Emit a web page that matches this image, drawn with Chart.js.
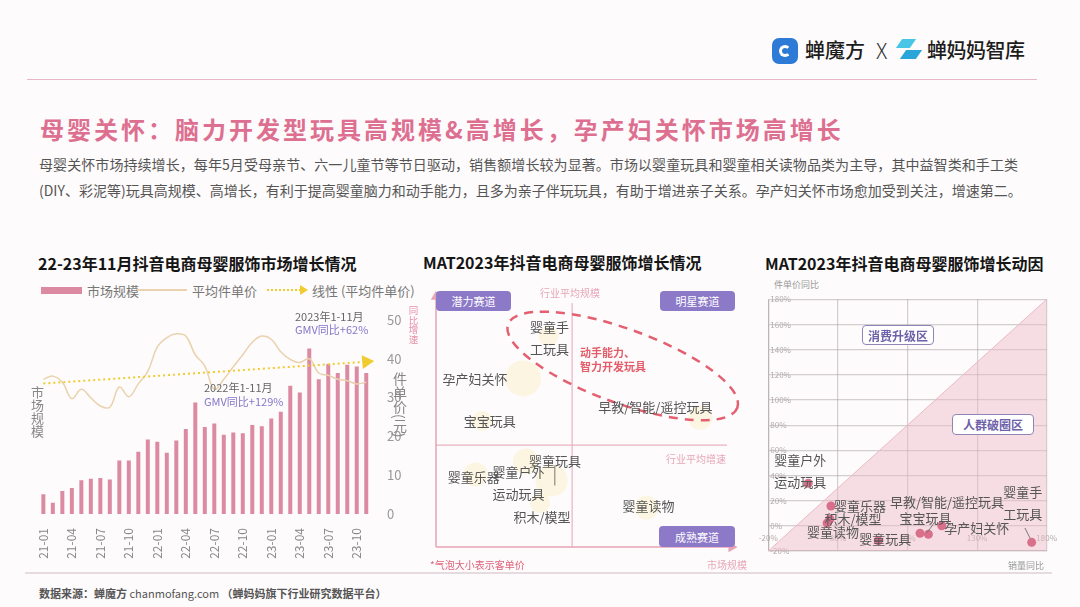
<!DOCTYPE html>
<html>
<head>
<meta charset="utf-8">
<script src="https://cdn.jsdelivr.net/npm/chart.js@4.4.1/dist/chart.umd.min.js"></script>
<style>
html, body { margin: 0; padding: 0; }
body {
    width: 1080px; height: 607px; position: relative; overflow: hidden;
    background: #fdfbfb; color: #333;
    font-family: "Noto Sans CJK SC", "Noto Sans", sans-serif;
}
.abs { position: absolute; white-space: nowrap; line-height: 1; transform: translateY(-50%); }
canvas { position: absolute; }
.vert { position: absolute; writing-mode: vertical-rl; line-height: 1; }
.quad { position: absolute; background: #8c79c7; color: #fff; font-size: 11px; border-radius: 4px;
        display: flex; align-items: center; justify-content: center; }
.zone { position: absolute; background: #fff; color: #6e61a9; font-size: 12px; font-weight: bold;
        border: 1.5px solid #8f86b6; border-radius: 4px; display: flex; align-items: center; justify-content: center; box-sizing: border-box; }
.ctitle { font-size: 16px; font-weight: bold; color: #151515; }
</style>
</head>
<body>

<!-- header -->
<div style="position:absolute;left:772px;top:38px;width:26px;height:26px;border-radius:7px;background:#2d7bd6;"></div>
<div style="position:absolute;left:779px;top:45px;width:12px;height:12px;border-radius:50%;border:3px solid #fff;border-right-color:transparent;box-sizing:border-box;"></div>
<div class="abs" style="left:805px;top:50px;font-size:20px;font-weight:500;color:#1c1c1c;">蝉魔方</div>
<div class="abs" style="left:876px;top:50px;font-size:21px;font-weight:300;color:#333;">X</div>
<div style="position:absolute;left:899px;top:39px;width:14px;height:9px;background:#49c6e6;transform:skewX(-35deg);"></div>
<div style="position:absolute;left:903px;top:50px;width:16px;height:9px;background:#2aa5d9;transform:skewX(-35deg);"></div>
<div class="abs" style="left:927px;top:50px;font-size:20px;font-weight:500;color:#1c1c1c;letter-spacing:-0.5px;">蝉妈妈智库</div>
<div style="position:absolute;left:27px;top:79px;width:1010px;height:1px;background:#e9b6c5;"></div>

<div class="abs" style="left:40px;top:129px;font-size:24px;font-weight:bold;color:#dd6f91;letter-spacing:3px;">母婴关怀：脑力开发型玩具高规模&amp;高增长，孕产妇关怀市场高增长</div>
<div class="abs" style="left:39px;top:164px;width:979px;font-size:14px;color:#555;text-align:justify;text-align-last:justify;">母婴关怀市场持续增长，每年5月受母亲节、六一儿童节等节日驱动，销售额增长较为显著。市场以婴童玩具和婴童相关读物品类为主导，其中益智类和手工类</div>
<div class="abs" style="left:39px;top:190px;width:979px;font-size:14px;color:#555;text-align:justify;text-align-last:justify;">(DIY、彩泥等)玩具高规模、高增长，有利于提高婴童脑力和动手能力，且多为亲子伴玩玩具，有助于增进亲子关系。孕产妇关怀市场愈加受到关注，增速第二。</div>

<!-- left chart -->
<div class="abs ctitle" style="left:38px;top:263px;">22-23年11月抖音电商母婴服饰市场增长情况</div>
<div style="position:absolute;left:41px;top:287px;width:41px;height:7px;background:#db8aa1;"></div>
<div class="abs" style="left:87px;top:290px;font-size:13px;color:#777;">市场规模</div>
<div style="position:absolute;left:137px;top:289px;width:50px;height:1.5px;background:#e9d2ad;"></div>
<div class="abs" style="left:192px;top:290px;font-size:13px;color:#777;">平均件单价</div>
<div style="position:absolute;left:267px;top:289px;width:34px;border-top:2px dotted #f0cc30;"></div>
<div style="position:absolute;left:300px;top:285px;width:0;height:0;border-left:8px solid #f0cc30;border-top:5px solid transparent;border-bottom:5px solid transparent;"></div>
<div class="abs" style="left:312px;top:290px;font-size:13px;color:#777;">线性 (平均件单价)</div>
<canvas id="leftChart" width="390" height="270" style="left:30px;top:296px;"></canvas>
<div class="vert" style="left:31px;top:386px;font-size:13px;color:#888;">市场规模</div>
<div class="vert" style="left:393px;top:372px;font-size:14px;color:#888;">件单价(元)</div>
<div class="vert" style="left:408px;top:306px;font-size:9.5px;color:#e58fa8;">同比增速</div>
<div class="abs" style="left:295px;top:316px;font-size:11px;color:#666;">2023年1-11月</div>
<div class="abs" style="left:295px;top:329px;font-size:11px;color:#8577c9;">GMV同比+62%</div>
<div class="abs" style="left:204px;top:387px;font-size:11px;color:#666;">2022年1-11月</div>
<div class="abs" style="left:204px;top:401px;font-size:11px;color:#8577c9;">GMV同比+129%</div>

<!-- middle chart -->
<div class="abs ctitle" style="left:423px;top:262px;">MAT2023年抖音电商母婴服饰增长情况</div>
<canvas id="midChart" width="330" height="285" style="left:418px;top:280px;"></canvas>
<div class="quad" style="left:436px;top:291px;width:75px;height:20px;">潜力赛道</div>
<div class="quad" style="left:660px;top:291px;width:75px;height:20px;">明星赛道</div>
<div class="quad" style="left:659px;top:526px;width:76px;height:21px;">成熟赛道</div>
<div class="abs" style="left:540px;top:293px;font-size:10px;color:#e6a7ba;">行业平均规模</div>
<div class="abs" style="left:666px;top:459px;font-size:10px;color:#e6a7ba;">行业平均增速</div>
<div class="abs" style="left:580px;top:352px;font-size:11px;font-weight:bold;color:#e35d6a;">动手能力、</div>
<div class="abs" style="left:580px;top:366px;font-size:11px;font-weight:bold;color:#e35d6a;">智力开发玩具</div>
<div class="abs" style="left:430px;top:565px;font-size:10px;color:#e0607a;">*气泡大小表示客单价</div>
<div class="abs" style="left:707px;top:565px;font-size:10px;color:#e6a7ba;">市场规模</div>

<!-- right chart -->
<div class="abs ctitle" style="left:765px;top:263px;">MAT2023年抖音电商母婴服饰增长动因</div>
<div class="abs" style="left:774px;top:284px;font-size:9px;color:#999;">件单价同比</div>
<canvas id="rightChart" width="300" height="275" style="left:758px;top:289px;"></canvas>
<div class="zone" style="left:862px;top:325px;width:72px;height:20px;">消费升级区</div>
<div class="zone" style="left:952px;top:414px;width:82px;height:21px;">人群破圈区</div>
<div class="abs" style="left:1008px;top:565px;font-size:9px;color:#999;">销量同比</div>

<!-- footer -->
<div style="position:absolute;left:25px;top:572px;width:1027px;height:2px;background:#e6dcdf;"></div>
<div class="abs" style="left:39px;top:593px;font-size:11px;color:#555;font-weight:bold;">数据来源：蝉魔方 <span style="font-weight:normal;">chanmofang.com</span> （蝉妈妈旗下行业研究数据平台）</div>

<script>
// ---- left chart data ----
const months = ['21-01','21-02','21-03','21-04','21-05','21-06','21-07','21-08','21-09','21-10','21-11','21-12',
                '22-01','22-02','22-03','22-04','22-05','22-06','22-07','22-08','22-09','22-10','22-11','22-12',
                '23-01','23-02','23-03','23-04','23-05','23-06','23-07','23-08','23-09','23-10','23-11'];
const tickMonths = ['21-01','21-04','21-07','21-10','22-01','22-04','22-07','22-10','23-01','23-04','23-07','23-10'];
const marketSize = [5.1, 2.9, 5.9, 6.7, 8.7, 9.1, 9.3, 8.9, 13.8, 13.8, 16.0, 19.2,
                    18.6, 15.8, 18.9, 21.9, 28.7, 22.4, 23.3, 20.4, 21.0, 20.8, 22.9, 22.6,
                    24.6, 26.3, 33.0, 31.3, 42.6, 34.7, 38.6, 36.3, 38.4, 38.0, 36.3];
const avgPrice = [34.7, 35.5, 33.9, 29.7, 32.1, 29.9, 27.8, 27.5, 32.7, 30.2, 33.5, 36.7,
                  43.0, 45.4, 46.4, 45.8, 41.0, 38.1, 32.1, 34.7, 37.9, 41.0, 44.2, 45.8,
                  45.0, 41.8, 39.8, 39.0, 40.0, 36.3, 35.7, 34.7, 34.3, 33.5, 33.9];
const trendEnds = [33.6, 39.2];   // linear trend of avg price, start / end
const priceTicks = [0, 10, 20, 30, 40, 50];

// ---- middle + right chart data ----
const categories = ['婴童手工玩具','孕产妇关怀','宝宝玩具','早教/智能/遥控玩具','婴童玩具','婴童乐器','婴童户外运动玩具','积木/模型','婴童读物'];
const marketScale = [38.3, 29.6, 15.6, 89.9, 30.6, 13.5, 39.3, 35.4, 71.6];
const marketGrowth = [84.8, 67.7, 50.6, 51.9, 34.3, 29.1, 26.7, 17.7, 15.8];
const orderPrice = [10, 18, 10, 12, 13, 12, 16, 10, 12];   // bubble radius
const industryAvg = [46.3, 40.9];  // avg scale, avg growth
const volumeYoY = [169.2, 104.6, 95.0, 89.0, 59.0, 25.0, 8.7, 24.3, 22.2];
const priceYoY = [-13.1, 0.1, -6.7, -5.9, -11.8, 15.8, 33.8, 5.4, 2.2];

const FONT = '"Noto Sans CJK SC", "Noto Sans", sans-serif';
Chart.defaults.font.family = FONT;
Chart.defaults.animation = false;

const splitNames = {
    '婴童手工玩具': ['婴童手', '工玩具'],
    '婴童户外运动玩具': ['婴童户外', '运动玩具']
};

// draws category names next to each point of dataset `dsIndex`
function nameLabels(id, dsIndex, offsets, leaders) {
    return {
        id: id,
        afterDatasetsDraw(chart) {
            const ctx = chart.ctx;
            const meta = chart.getDatasetMeta(dsIndex);
            ctx.save();
            ctx.font = '13px ' + FONT;
            ctx.fillStyle = '#555';
            ctx.textAlign = 'center';
            ctx.textBaseline = 'middle';
            meta.data.forEach((el, i) => {
                const p = el.getProps(['x', 'y'], true);
                const lines = splitNames[categories[i]] || [categories[i]];
                const off = offsets[i];
                const lh = 22;
                lines.forEach((t, k) => {
                    ctx.fillText(t, p.x + off[0], p.y + off[1] + (k - (lines.length - 1) / 2) * lh);
                });
            });
            ctx.strokeStyle = '#777';
            ctx.lineWidth = 1;
            leaders.forEach(l => {
                const p = meta.data[l[0]].getProps(['x', 'y'], true);
                ctx.beginPath();
                ctx.moveTo(p.x + l[1], p.y + l[2]);
                ctx.lineTo(p.x + l[3], p.y + l[4]);
                ctx.stroke();
            });
            ctx.restore();
        }
    };
}

// ---------- left: bars + price line ----------
new Chart(document.getElementById('leftChart'), {
    type: 'bar',
    data: {
        labels: months,
        datasets: [
            {
                type: 'line', label: '线性 (平均件单价)',
                data: months.map((m, i) => i === 0 ? trendEnds[0] : (i === months.length - 1 ? trendEnds[1] : null)),
                spanGaps: true, borderColor: '#f0cc30', borderWidth: 2, borderDash: [2, 3],
                pointStyle: 'triangle', pointRotation: 85, backgroundColor: '#f0cc30',
                pointRadius: ctx => ctx.dataIndex === months.length - 1 ? 6 : 0,
                order: 0
            },
            {
                type: 'line', label: '平均件单价', data: avgPrice,
                borderColor: '#e9d2ad', borderWidth: 1.5, tension: 0.4, pointRadius: 0,
                order: 1
            },
            {
                label: '市场规模', data: marketSize, backgroundColor: '#db8aa1',
                barPercentage: 0.42, categoryPercentage: 1, order: 2
            }
        ]
    },
    options: {
        responsive: false,
        layout: { padding: { left: 8.6, top: 8, right: 0, bottom: 0 } },
        plugins: { legend: { display: false }, tooltip: { enabled: false } },
        scales: {
            x: {
                grid: { display: false }, border: { display: false },
                ticks: {
                    autoSkip: false, minRotation: 90, maxRotation: 90, padding: 6,
                    color: '#888', font: { size: 12 },
                    callback: (v, i) => tickMonths.includes(months[i]) ? months[i] : ''
                },
                afterFit: s => { s.height = 52; }
            },
            y: {
                position: 'right', min: priceTicks[0], max: priceTicks[priceTicks.length - 1],
                grid: { display: false, drawTicks: false }, border: { display: false },
                afterBuildTicks: s => { s.ticks = priceTicks.map(v => ({ value: v })); },
                ticks: { padding: 16, color: '#9a9a9a', font: { size: 13 } },
                afterFit: s => { s.width = 49; }
            }
        }
    }
});

// ---------- middle: bubble quadrant ----------
const axisColor = '#e8a3b5';
const ellipsePlugin = {
    id: 'ellipse',
    afterDatasetsDraw(chart) {
        const { ctx, scales } = chart;
        const cx = scales.x.getPixelForValue(63.5);
        const cy = scales.y.getPixelForValue(72.7);
        ctx.save();
        ctx.strokeStyle = '#e46070';
        ctx.lineWidth = 2.5;
        ctx.setLineDash([9, 7]);
        ctx.beginPath();
        ctx.ellipse(cx, cy, 122, 37, 20 * Math.PI / 180, 0, Math.PI * 2);
        ctx.stroke();
        ctx.restore();
    }
};
new Chart(document.getElementById('midChart'), {
    type: 'bubble',
    data: {
        datasets: [
            {
                label: '品类',
                data: categories.map((c, i) => ({ x: marketScale[i], y: marketGrowth[i], r: orderPrice[i] })),
                backgroundColor: 'rgba(252, 232, 170, 0.32)', borderWidth: 0
            },
            {
                type: 'line', data: [{ x: 0, y: 0 }, { x: 0, y: 100.5 }], clip: false,
                borderColor: axisColor, borderWidth: 1.5, backgroundColor: axisColor,
                pointStyle: 'triangle', pointRadius: [0, 4.5], pointRotation: 0
            },
            {
                type: 'line', data: [{ x: 0, y: 0 }, { x: 100.5, y: 0 }], clip: false,
                borderColor: axisColor, borderWidth: 1.5, backgroundColor: axisColor,
                pointStyle: 'triangle', pointRadius: [0, 4.5], pointRotation: 90
            },
            {
                type: 'line', data: [{ x: industryAvg[0], y: 0 }, { x: industryAvg[0], y: 98 }],
                borderColor: '#ebb2c1', borderWidth: 1.2, pointRadius: 0
            },
            {
                type: 'line', data: [{ x: 0, y: industryAvg[1] }, { x: 99, y: industryAvg[1] }],
                borderColor: '#ebb2c1', borderWidth: 1.2, pointRadius: 0
            }
        ]
    },
    options: {
        responsive: false,
        layout: { padding: { left: 10.3, right: 10, top: 10, bottom: 11.7 } },
        plugins: { legend: { display: false }, tooltip: { enabled: false } },
        scales: {
            x: { type: 'linear', min: 0, max: 100, display: false },
            y: { type: 'linear', min: 0, max: 100, display: false }
        }
    },
    plugins: [
        ellipsePlugin,
        nameLabels('midNames', 0,
            [[1, 2], [-48, 1], [8, 0], [-45, -11], [29, -1], [-2, 3], [-33, 2.5], [2, 14], [2, -2]],
            [[6, 3.3, -15, 3.3, 5]])
    ]
});

// ---------- right: scatter with diagonal ----------
const gridColor = 'rgba(160, 150, 155, 0.45)';
new Chart(document.getElementById('rightChart'), {
    type: 'scatter',
    data: {
        datasets: [
            {
                label: '品类',
                data: categories.map((c, i) => ({ x: volumeYoY[i], y: priceYoY[i] })),
                backgroundColor: '#d86f8b', pointRadius: 4.5, borderWidth: 0
            },
            {
                type: 'line', data: [{ x: -20, y: -20 }, { x: 180, y: 180 }],
                borderColor: '#ebb9c6', borderWidth: 1, pointRadius: 0,
                fill: 'start', backgroundColor: 'rgba(238, 185, 198, 0.45)'
            }
        ]
    },
    options: {
        responsive: false,
        layout: { padding: { left: 10.3, right: 11.3, top: 10.3, bottom: 13 } },
        plugins: { legend: { display: false }, tooltip: { enabled: false } },
        scales: {
            x: {
                type: 'linear', min: -20, max: 180, z: 1,
                grid: { color: gridColor, lineWidth: 1.2, drawTicks: false },
                border: { color: gridColor, width: 1.2 },
                ticks: { stepSize: 50, mirror: true, padding: 8, color: '#b3aaad', font: { size: 8 }, callback: v => v + '%' },
                afterFit: s => { s.height = 0; s.paddingLeft = 0; s.paddingRight = 0; }
            },
            y: {
                type: 'linear', min: -20, max: 180,
                grid: { color: gridColor, lineWidth: 1.2, drawTicks: false },
                border: { color: gridColor, width: 1.2 },
                ticks: { stepSize: 20, mirror: true, padding: 2, color: '#b3aaad', font: { size: 8 }, callback: v => v + '%' },
                afterFit: s => { s.width = 0; s.paddingTop = 0; s.paddingBottom = 0; }
            }
        }
    },
    plugins: [
        nameLabels('rightNames', 0,
            [[-9, -39.5], [35, 2], [-3, -16], [27, -31], [7, -2], [29, 0], [-8, -12], [23, 0], [6, 9]],
            [[0, -6.7, -14.3, -1.7, -4.3], [2, 6.7, -12.6, -1.6, -1.3]])
    ]
});
</script>
</body>
</html>
